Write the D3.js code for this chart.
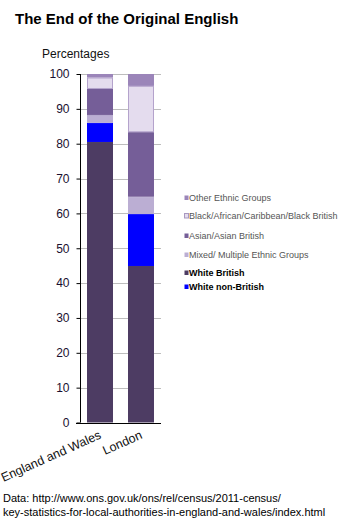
<!DOCTYPE html>
<html><head><meta charset="utf-8">
<script src="https://cdn.jsdelivr.net/npm/d3@7"></script>
<style>body{margin:0;background:#fff}svg{display:block}</style>
</head><body>
<script>
const categories = ["England and Wales", "London"];
const seriesNames = ["White British", "White non-British", "Mixed/ Multiple Ethnic Groups", "Asian/Asian British", "Black/African/Caribbean/Black British", "Other Ethnic Groups"];
const whiteBritish = [80.5, 44.9];
const whiteNonBritish = [5.5, 14.9];
const mixed = [2.2, 5.0];
const asian = [7.5, 18.5];
const black = [3.3, 13.3];
const other = [1.0, 3.4];
const yTicks = [0, 10, 20, 30, 40, 50, 60, 70, 80, 90, 100];
const colors = ["#4d3c63", "#0000ff", "#bbaed3", "#755e98", "#e4dcee", "#9b85b9"];
const strokes = ["#4d3c63", "#0000ff", "#bbaed3", "#755e98", "#b4a3cc", "#9b85b9"];

const W = 344, H = 522;
const svg = d3.select("body").append("svg").attr("width", W).attr("height", H);
const font = "Arial, 'Liberation Sans', sans-serif";

svg.append("text").attr("x", 15).attr("y", 24).attr("font-family", font)
  .attr("font-size", 15).attr("font-weight", "bold").attr("fill", "#000")
  .text("The End of the Original English");
svg.append("text").attr("x", 42).attr("y", 58).attr("font-family", font)
  .attr("font-size", 12).attr("fill", "#111").text("Percentages");

const y = d3.scaleLinear().domain([0, 100]).range([422.5, 74]);
const x = d3.scaleBand().domain(categories).range([80, 161]).paddingInner(0.366).paddingOuter(0.171);

// gridlines
svg.append("g").selectAll("line").data(yTicks.filter(d => d > 0)).join("line")
  .attr("x1", 80).attr("x2", 161).attr("y1", d => Math.round(y(d)) + 0.5).attr("y2", d => Math.round(y(d)) + 0.5)
  .attr("stroke", "#bdbdbd").attr("stroke-width", 1);

const series = [whiteBritish, whiteNonBritish, mixed, asian, black, other];
const table = categories.map((c, i) => {
  const o = {cat: c};
  seriesNames.forEach((s, j) => o[s] = series[j][i]);
  return o;
});
const stacked = d3.stack().keys(seriesNames)(table);

svg.append("g").selectAll("g").data(stacked).join("g")
  .attr("fill", (d, i) => colors[i]).attr("stroke", (d, i) => strokes[i])
  .selectAll("rect").data(d => d).join("rect")
  .attr("x", d => x(d.data.cat) + 0.5).attr("width", x.bandwidth() - 1)
  .attr("y", d => y(d[1]) + 0.5).attr("height", d => Math.max(0, y(d[0]) - y(d[1]) - 1));

// y axis
const yAxis = d3.axisLeft(y).tickValues(yTicks).tickSize(4).tickPadding(7);
const ga = svg.append("g").attr("transform", "translate(80.5,0)").call(yAxis);
ga.select(".domain").attr("stroke", "#000").attr("d", "M0," + y(0) + "V" + y(100));
ga.selectAll(".tick line").attr("stroke", "#000");
ga.selectAll(".tick text").attr("font-family", font).attr("font-size", 12).attr("fill", "#1a1030");

// baseline
svg.append("line").attr("x1", 76).attr("x2", 161).attr("y1", Math.round(y(0)) + 0.5).attr("y2", Math.round(y(0)) + 0.5)
  .attr("stroke", "#000");

// x labels
svg.append("g").selectAll("text").data(categories).join("text")
  .attr("transform", d => `translate(${x(d) + x.bandwidth() / 2 + 2},${438}) rotate(-24)`)
  .attr("text-anchor", "end").attr("font-family", font).attr("font-size", 12.5).attr("fill", "#111")
  .text(d => d);

// legend
const legendOrder = [5, 4, 3, 2, 0, 1];
const legendY = [201, 219, 239, 258, 276, 290];
const lg = svg.append("g").selectAll("g").data(legendOrder).join("g")
  .attr("transform", (d, i) => `translate(184,${legendY[i]})`);
lg.append("rect").attr("x", 0.5).attr("y", -5.5).attr("width", 4).attr("height", 4.5)
  .attr("fill", d => colors[d]).attr("stroke", d => d === 4 ? "#a898c0" : "none");
lg.append("text").attr("x", 5).attr("y", 0).attr("font-family", font).attr("font-size", 9)
  .attr("fill", d => d <= 1 ? "#000" : "#555").attr("font-weight", d => d <= 1 ? "bold" : "normal")
  .text(d => seriesNames[d]);

svg.append("text").attr("x", 3).attr("y", 502).attr("font-family", font).attr("font-size", 11).attr("fill", "#000")
  .text("Data: http://www.ons.gov.uk/ons/rel/census/2011-census/");
svg.append("text").attr("x", 3).attr("y", 516).attr("font-family", font).attr("font-size", 11).attr("fill", "#000")
  .text("key-statistics-for-local-authorities-in-england-and-wales/index.html");
</script>
</body></html>
